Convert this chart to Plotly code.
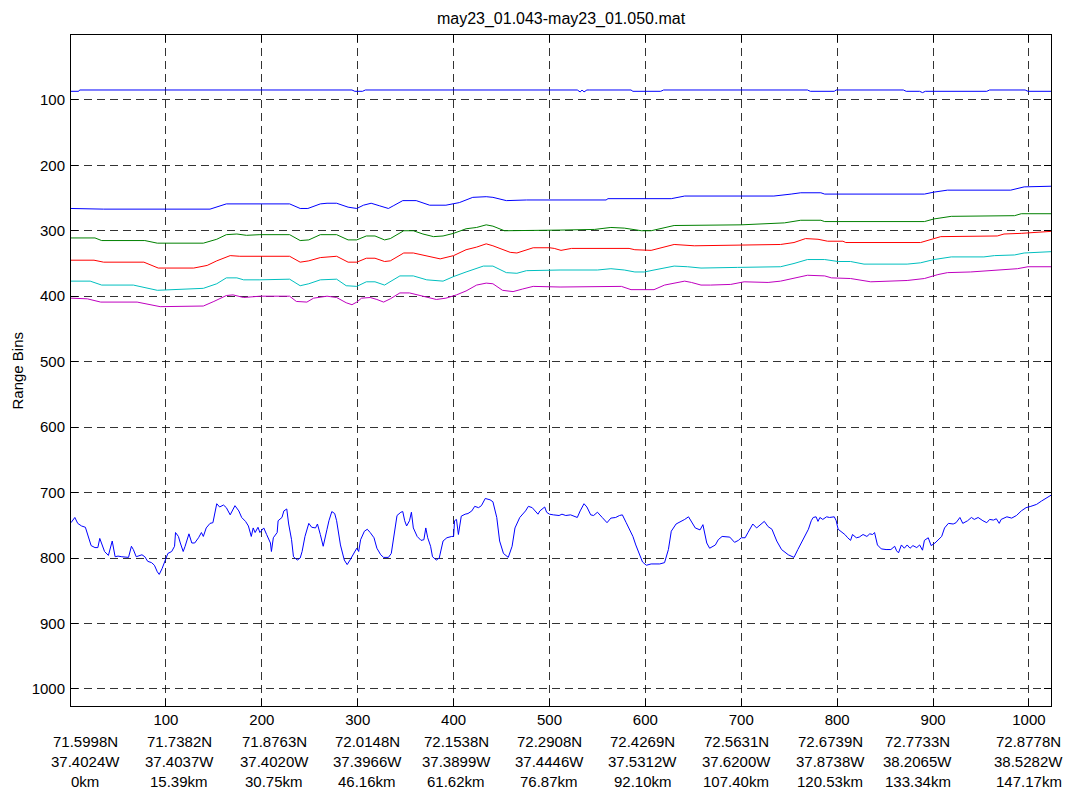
import plotly.graph_objects as go

# ---------------- data ----------------
top_x = [1, 9, 10, 294, 297, 305, 308, 334, 336, 338, 529, 532, 534, 536, 539, 542, 585, 587, 616, 619,
         769, 772, 797, 799, 869, 872, 886, 889, 892, 956, 959, 996, 999, 1023]
top_y = [87, 87, 85, 85, 87, 87, 85, 85, 86, 85, 85, 88, 85, 88, 85, 85, 85, 87, 87, 85,
         85, 87, 87, 85, 85, 87, 87, 89, 87, 87, 85, 85, 87, 87]

blue2_x = [1, 35, 146, 163, 229, 240, 248, 261, 268, 278, 290, 299, 306, 314, 323, 332, 337, 347, 361, 375,
           392, 406, 420, 434, 441, 455, 476, 511, 559, 561, 627, 641, 734, 752, 762, 783, 787, 891, 901, 915,
           981, 995, 1023]
blue2_y = [266, 267, 267, 259, 259, 266, 266, 259, 258, 258, 264, 266, 261, 258, 262, 266, 262, 254, 254, 261,
           261, 257, 249, 248, 249, 254, 253, 253, 253, 251, 251, 247, 247, 244, 242, 242, 244, 244, 241, 238,
           238, 233, 232]

green_x = [1, 26, 33, 78, 91, 139, 153, 163, 174, 184, 198, 229, 240, 249, 261, 278, 290, 299, 309, 318,
           328, 334, 348, 358, 368, 379, 389, 400, 413, 424, 434, 441, 453, 476, 483, 511, 547, 564, 578, 585,
           596, 606, 620, 630, 700, 745, 762, 783, 787, 814, 818, 856, 860, 891, 901, 919, 985, 992, 1023]
green_y = [311, 311, 315, 315, 319, 319, 313, 306, 305, 307, 306, 306, 315, 314, 306, 306, 314, 314, 308, 308,
           314, 312, 300, 300, 305, 309, 308, 304, 297, 295, 291, 293, 300, 300, 299, 299, 298, 295, 296, 298,
           300, 300, 296, 292, 291, 288, 284, 284, 286, 286, 287, 287, 286, 286, 282, 278, 277, 274, 274]

red_x = [1, 25, 35, 77, 92, 129, 143, 153, 167, 177, 229, 240, 249, 261, 278, 290, 299, 309, 318, 328,
         334, 348, 358, 372, 386, 400, 413, 424, 434, 441, 459, 466, 483, 500, 505, 512, 523, 583, 589, 606,
         616, 630, 651, 700, 741, 755, 767, 780, 790, 806, 809, 887, 900, 908, 967, 974, 992, 1023]
red_y = [345, 345, 348, 348, 357, 357, 353, 346, 338, 339, 339, 348, 346, 341, 339, 348, 348, 342, 342, 347,
         346, 334, 334, 338, 343, 338, 329, 325, 320, 323, 333, 334, 326, 326, 327, 330, 327, 327, 329, 330,
         326, 321, 323, 322, 321, 318, 312, 313, 316, 316, 318, 318, 313, 309, 308, 305, 304, 301]

cyan_x = [1, 21, 33, 66, 91, 129, 139, 153, 163, 174, 181, 198, 229, 240, 249, 261, 278, 288, 299, 309,
          318, 328, 344, 358, 372, 389, 400, 413, 431, 441, 455, 466, 476, 511, 550, 564, 578, 589, 599, 609,
          630, 644, 658, 696, 741, 755, 769, 787, 801, 814, 828, 873, 887, 901, 919, 953, 964, 985, 995, 1023]
cyan_y = [377, 377, 383, 383, 391, 389, 388, 381, 372, 372, 375, 375, 374, 384, 381, 375, 374, 384, 385, 378,
          378, 383, 369, 369, 375, 377, 370, 363, 354, 354, 364, 365, 361, 360, 360, 358, 360, 363, 363, 360,
          354, 355, 357, 356, 355, 350, 344, 344, 347, 347, 351, 351, 349, 344, 340, 340, 338, 337, 334, 332]

mag_x = [1, 18, 32, 70, 94, 139, 150, 163, 170, 181, 198, 229, 236, 247, 254, 268, 278, 288, 294, 299,
         304, 313, 320, 327, 334, 344, 354, 368, 382, 392, 403, 413, 424, 434, 441, 451, 462, 472, 483, 511,
         550, 575, 585, 609, 620, 630, 641, 648, 658, 668, 689, 703, 728, 741, 755, 769, 787, 794, 814, 825,
         835, 873, 891, 905, 915, 939, 967, 988, 999, 1023]
mag_y = [403, 404, 409, 409, 416, 415, 408, 399, 398, 402, 400, 400, 408, 409, 403, 400, 402, 410, 413, 409,
         403, 402, 405, 409, 404, 395, 395, 400, 405, 403, 398, 392, 383, 380, 381, 391, 393, 389, 385, 386,
         386, 385, 390, 390, 383, 380, 377, 379, 383, 383, 382, 378, 379, 377, 373, 368, 369, 372, 373, 376,
         378, 376, 373, 367, 364, 363, 360, 358, 355, 355]

bot_x = [1, 5, 8, 12, 16, 19, 22, 26, 29, 31, 33, 36, 40, 42, 44, 47, 50, 54, 57, 61, 64, 66, 69, 75, 78,
         81, 85, 88, 91, 93, 96, 99, 102, 106, 109, 110, 113, 115, 118, 120, 124, 127, 130, 134, 137, 139,
         142, 146, 149, 153, 156, 160, 163, 167, 169, 172, 176, 179, 183, 186, 189, 191, 193, 196, 198, 202,
         205, 209, 210, 212, 216, 217, 221, 223, 226, 228, 231, 233, 237, 240, 242, 245, 249, 252, 256, 258,
         261, 264, 268, 270, 273, 276, 278, 282, 286, 289, 292, 296, 299, 301, 303, 307, 310, 313, 317, 320,
         324, 327, 332, 335, 338,
         341, 345, 347, 349, 351, 354, 356, 358, 362, 366, 369, 371, 373, 376, 378, 382, 385, 389, 393, 398,
         400, 401, 403, 405, 408, 412, 415, 419, 422, 426, 429, 433, 438, 441, 445, 448, 452, 457, 461, 464,
         469, 475, 478, 482, 485, 488, 490, 495, 497, 500, 504, 510, 513, 517, 522, 529, 532, 536, 539, 543,
         546, 550, 555, 560, 564, 569, 573, 576, 580, 583, 587, 590, 594, 597, 601, 606, 615, 620, 624, 627,
         632, 638, 641, 645, 648, 652, 657, 660, 664, 667, 673, 676, 680,
         684, 688, 693, 697, 700, 704, 707, 712, 716, 721, 724, 728, 732, 737, 742, 749, 755, 759, 764, 770,
         773, 775, 778, 780, 782, 785, 789, 792, 797, 799, 801, 804, 808, 811, 814, 816, 820, 823, 827, 831,
         834, 837, 839, 842, 846, 851, 856, 860, 862, 864, 867, 870, 873, 876, 879, 883, 886, 889, 891, 895,
         898, 902, 905, 909, 912, 916, 921, 924, 928, 931, 936, 940, 943, 947, 952, 956, 959, 963, 966, 969,
         971, 977, 982, 987, 992, 997, 1002, 1008, 1013, 1018, 1023]
bot_y = [746, 738, 747, 751, 753, 769, 781, 784, 784, 770, 777, 790, 796, 785, 774, 798, 797, 798, 798, 799,
         782, 787, 798, 795, 798, 805, 807, 811, 821, 825, 816, 803, 793, 790, 782, 761, 767, 777, 790, 782,
         763, 777, 777, 769, 761, 767, 754, 747, 746, 717, 722, 719, 723, 734, 728, 720, 728, 738, 744, 751,
         767, 754, 761, 753, 761, 754, 764, 777, 790, 769, 761, 743, 738, 728, 725, 748, 772, 798, 803, 800,
         790, 767, 747, 753, 754, 748, 764, 782, 756, 743, 729, 732, 743, 780, 803, 810, 803, 793, 785, 790,
         772, 759, 756, 761, 769, 785, 795, 799, 799, 793, 761,
         735, 730, 729, 743, 751, 743, 730, 754, 767, 773, 772, 754, 769, 782, 798, 803, 800, 774, 769, 767,
         767, 743, 741, 764, 736, 733, 732, 728, 721, 723, 720, 709, 711, 714, 738, 774, 793, 799, 782, 754,
         738, 728, 721, 723, 728, 733, 728, 722, 730, 733, 734, 735, 733, 735, 734, 738, 728, 717, 722, 734,
         735, 730, 738, 746, 739, 738, 735, 734, 746, 754, 767, 780, 795, 806, 811, 809, 809, 807, 787, 759,
         748, 744, 741, 737, 744, 754, 757, 749, 777, 785, 780, 772, 767,
         767, 768, 776, 773, 769, 769, 761, 748, 754, 747, 744, 752, 756, 774, 787, 795, 799, 787, 772, 756,
         743, 738, 737, 744, 738, 741, 737, 738, 737, 743, 756, 759, 764, 769, 773, 764, 769, 768, 764, 767,
         763, 764, 761, 780, 786, 787, 787, 782, 789, 792, 780, 785, 780, 785, 781, 784, 780, 788, 773, 769,
         781, 777, 773, 767, 754, 747, 748, 746, 738, 747, 743, 738, 741, 738, 743, 746, 741, 742, 740, 747,
         741, 737, 739, 735, 728, 723, 721, 718, 713, 708, 704]

series = [
    (top_x, top_y, "#0000ff"),
    (blue2_x, blue2_y, "#0000ff"),
    (green_x, green_y, "#008000"),
    (red_x, red_y, "#ff0000"),
    (cyan_x, cyan_y, "#00bfbf"),
    (mag_x, mag_y, "#bf00bf"),
    (bot_x, bot_y, "#0000ff"),
]

x_ticks = [100, 200, 300, 400, 500, 600, 700, 800, 900, 1000]
y_ticks = [100, 200, 300, 400, 500, 600, 700, 800, 900, 1000]

label_cols = [16, 114, 213, 310, 403, 500, 597, 695, 793, 884, 1000]
lat_labels = ["71.5998N", "71.7382N", "71.8763N", "72.0148N", "72.1538N", "72.2908N",
              "72.4269N", "72.5631N", "72.6739N", "72.7733N", "72.8778N"]
lon_labels = ["37.4024W", "37.4037W", "37.4020W", "37.3966W", "37.3899W", "37.4446W",
              "37.5312W", "37.6200W", "37.8738W", "38.2065W", "38.5282W"]
km_labels = ["0km", "15.39km", "30.75km", "46.16km", "61.62km", "76.87km",
             "92.10km", "107.40km", "120.53km", "133.34km", "147.17km"]

title_text = "may23_01.043-may23_01.050.mat"
ylabel_text = "Range Bins"

# ---------------- figure ----------------
FONT = "Arial, Liberation Sans, Helvetica, sans-serif"
FS = 15

fig = go.Figure()
for xs, ys, col in series:
    fig.add_trace(go.Scatter(x=xs, y=ys, mode="lines",
                             line=dict(color=col, width=1), showlegend=False,
                             hoverinfo="skip"))

axis_common = dict(
    showline=True, linecolor="black", linewidth=1, mirror="ticks",
    ticks="inside", ticklen=7, tickcolor="black", tickwidth=1,
    showgrid=True, gridcolor="rgba(0,0,0,0.8)", gridwidth=1, griddash="8px,5px",
    zeroline=False, tickfont=dict(family=FONT, size=FS, color="black"),
)

fig.update_xaxes(range=[1, 1023], tickvals=x_ticks, ticktext=[str(v) for v in x_ticks],
                 **axis_common)
fig.update_yaxes(range=[1026, 1], tickvals=y_ticks, ticktext=[str(v) for v in y_ticks],
                 ticklabelstandoff=2, **axis_common)

annotations = []
rows = [(lat_labels, -35), (lon_labels, -55), (km_labels, -75)]
for labels, shift in rows:
    for xc, txt in zip(label_cols, labels):
        annotations.append(dict(x=xc, xref="x", y=0, yref="paper", yanchor="middle",
                                xanchor="center", yshift=shift, text=txt, showarrow=False,
                                font=dict(family=FONT, size=FS, color="black")))
annotations.append(dict(x=0, xref="paper", xshift=-54, y=0.5, yref="paper", textangle=-90,
                        text=ylabel_text, showarrow=False, xanchor="center", yanchor="middle",
                        font=dict(family=FONT, size=FS, color="black")))

fig.update_layout(
    width=1072, height=791,
    margin=dict(l=71, r=21, t=35, b=85),
    paper_bgcolor="white", plot_bgcolor="white",
    title=dict(text=title_text, x=0.5, xref="paper", y=1 - 18 / 791, yref="container",
               xanchor="center", yanchor="middle",
               font=dict(family=FONT, size=16, color="black")),
    annotations=annotations,
)

fig.write_html("out.html")
